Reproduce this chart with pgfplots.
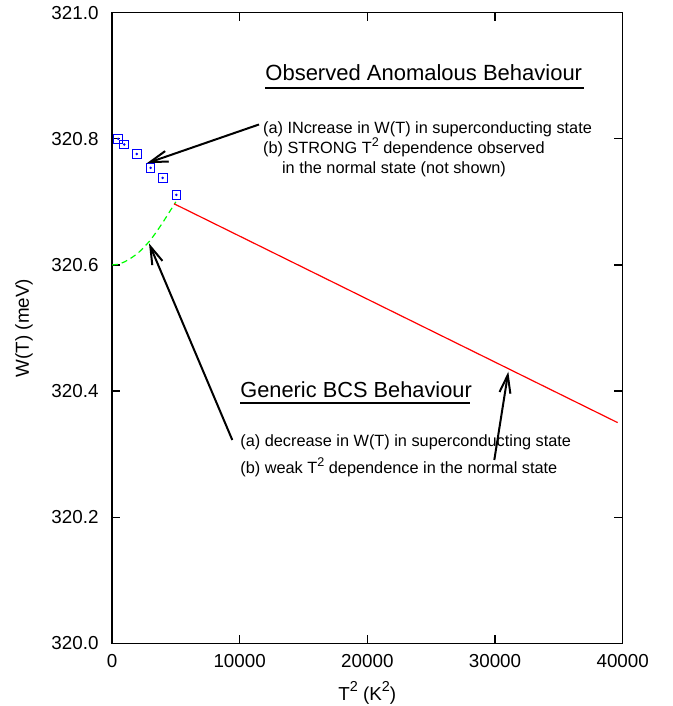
\documentclass[border=0pt]{standalone}
\usepackage{fontspec}
\setmainfont{Liberation Sans}
\usepackage{pgfplots}
\usepackage{pgfplotstable}
\pgfplotsset{compat=1.18}
\usetikzlibrary{arrows.meta}

\newcommand{\sqa}{\raisebox{0.48em}{\fontsize{6.3}{7}\selectfont 2}}
\newcommand{\sqb}{\raisebox{0.48em}{\fontsize{7.2}{8}\selectfont 2}}

\pgfplotstableread{
x y
484 320.800
961 320.791
1936 320.776
3025 320.754
3969 320.738
5041 320.711
}\observed

\pgfplotstableread{
x y
0 320.600
500 320.601
1000 320.605
1500 320.611
2000 320.618
2500 320.628
3000 320.639
3500 320.653
4000 320.668
4500 320.684
5000 320.700
}\bcssc

\pgfplotstableread{
x y
4860 320.697
39600 320.350
}\bcsnormal

\begin{document}
\begin{tikzpicture}
\useasboundingbox (0,0) rectangle (336.5pt,353pt);
\begin{axis}[
  at={(56pt,31.35pt)}, anchor=south west,
  scale only axis, width=255.35pt, height=315.3pt,
  xmin=0, xmax=40000, ymin=320, ymax=321,
  xtick={0,10000,20000,30000,40000},
  ytick={320,320.2,320.4,320.6,320.8,321},
  scaled ticks=false,
  tick align=inside,
  major tick length=4.2pt,
  tick style={black, line width=0.6pt},
  axis line style={line width=0.75pt},
  ticklabel style={font=\fontsize{9.4}{11}\selectfont},
  /pgf/number format/assume math mode=true,
  yticklabel style={/pgf/number format/.cd, fixed, fixed zerofill, precision=1, /tikz/.cd, xshift=-3.2pt},
  xticklabel style={/pgf/number format/.cd, set thousands separator={}, /tikz/.cd, yshift=-2pt},
  xlabel={T\sqb{} (K\sqb)},
  ylabel={W(T) (meV)},
  label style={font=\fontsize{9.4}{11}\selectfont},
  xlabel style={at={(axis description cs:0.5,-0.0788)}, anchor=center},
  ylabel style={at={(axis description cs:-0.1723,0.5)}, anchor=center},
]
\addplot[only marks, mark=square, mark size=2.17pt, blue, mark options={line width=0.5pt}] table {\observed};
\addplot[only marks, mark=*, mark size=0.4pt, blue] table {\observed};
\addplot[green, line width=0.6pt, dash pattern=on 3pt off 2pt] table {\bcssc};
\addplot[red, line width=0.6pt] table {\bcsnormal};
\end{axis}
\begin{scope}[x=0.5pt, y=-0.5pt, shift={(0pt,353pt)}]
\node[anchor=base west, inner sep=0, font=\fontsize{11}{13}\selectfont] at (265,80.7) {Observed Anomalous Behaviour};
\draw[line width=1pt] (265,88.3) -- (584,88.3);
\node[anchor=base west, inner sep=0, font=\fontsize{8.15}{10}\selectfont] at (262.7,134) {(a) INcrease in W(T) in superconducting state};
\node[anchor=base west, inner sep=0, font=\fontsize{8.15}{10}\selectfont] at (262.7,154) {(b) STRONG T\sqa{} dependence observed};
\node[anchor=base west, inner sep=0, font=\fontsize{8.15}{10}\selectfont] at (281.7,173.3) {in the normal state (not shown)};
\node[anchor=base west, inner sep=0, font=\fontsize{10.9}{13}\selectfont] at (240,397.3) {Generic BCS Behaviour};
\draw[line width=1pt] (240,403.3) -- (470,403.3);
\node[anchor=base west, inner sep=0, font=\fontsize{8.15}{10}\selectfont] at (240,446.7) {(a) decrease in W(T) in superconducting state};
\node[anchor=base west, inner sep=0, font=\fontsize{8.15}{10}\selectfont] at (240,474) {(b) weak T\sqa{} dependence in the normal state};
\draw[line width=1pt, -{Straight Barb[length=9pt,width=5.5pt]}] (259,124.5) -- (146.7,163.3);
\draw[line width=1pt, -{Straight Barb[length=9pt,width=5.5pt]}] (232.3,440) -- (149,243.3);
\draw[line width=1pt, -{Straight Barb[length=9pt,width=5.5pt]}] (494.3,460) -- (508.3,371.7);
\end{scope}
\end{tikzpicture}
\end{document}
